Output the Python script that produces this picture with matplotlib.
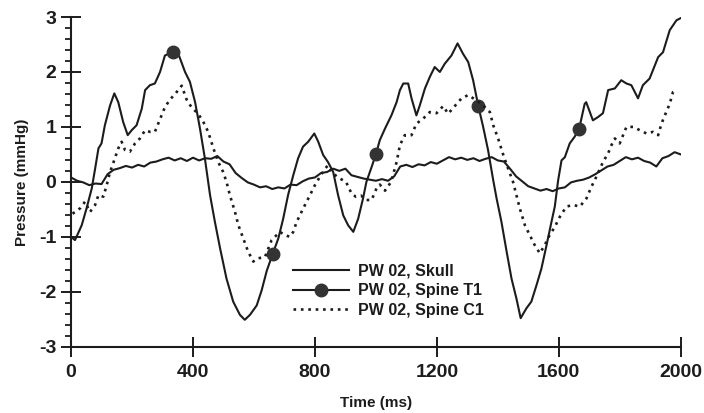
import numpy as np
import matplotlib
matplotlib.use("Agg")
import matplotlib.pyplot as plt
from matplotlib.ticker import MultipleLocator

plt.rcParams['font.family'] = ['Liberation Sans', 'DejaVu Sans']
plt.rcParams['axes.unicode_minus'] = False

# Skull: small oscillation around zero (sampled every 20 ms)
skull_t = list(range(0, 2001, 20))
skull_v = [0.08, 0.02, -0.01, -0.06, -0.03, -0.04, 0.14, 0.22, 0.25, 0.29,
           0.26, 0.31, 0.28, 0.35, 0.37, 0.41, 0.44, 0.39, 0.43, 0.38,
           0.44, 0.39, 0.43, 0.42, 0.47, 0.37, 0.32, 0.16, 0.07, -0.01,
           -0.05, -0.10, -0.08, -0.13, -0.10, -0.12, -0.05, -0.06, 0.01, 0.06,
           0.08, 0.16, 0.18, 0.24, 0.20, 0.24, 0.12, 0.09, 0.06, 0.04,
           0.02, 0.05, 0.02, 0.10, 0.28, 0.31, 0.27, 0.32, 0.30, 0.36,
           0.33, 0.39, 0.45, 0.41, 0.44, 0.40, 0.43, 0.38, 0.42, 0.45,
           0.39, 0.37, 0.24, 0.10, 0.01, -0.08, -0.12, -0.16, -0.13, -0.17,
           -0.12, -0.10, -0.01, 0.02, 0.04, 0.08, 0.14, 0.21, 0.28, 0.31,
           0.38, 0.45, 0.41, 0.44, 0.38, 0.35, 0.28, 0.43, 0.47, 0.54,
           0.50]

# Spine T1: large swings, markers every ~333 ms
t1_t = [0, 13, 35, 51, 68, 79, 90, 100, 111, 128, 142, 155, 171, 186, 199,
        215, 232, 243, 259, 275, 292, 308, 333, 352, 374, 390, 407, 423, 439,
        456, 472, 489, 510, 532, 554, 570, 587, 609, 625, 642, 661, 680, 696,
        712, 729, 745, 761, 778, 798, 811, 827, 843, 860, 876, 893, 909, 926,
        942, 958, 969, 986, 1000, 1013, 1030, 1051, 1068, 1079, 1090, 1106,
        1117, 1133, 1144, 1161, 1177, 1193, 1210, 1226, 1248, 1268, 1286,
        1303, 1319, 1336, 1352, 1368, 1385, 1396, 1412, 1429, 1445, 1461,
        1475, 1494, 1510, 1527, 1543, 1560, 1576, 1587, 1598, 1609, 1620,
        1636, 1652, 1667, 1685, 1690, 1712, 1729, 1745, 1762, 1784, 1805,
        1822, 1838, 1860, 1876, 1898, 1926, 1942, 1964, 1986, 2000]
t1_v = [-1.00, -1.06, -0.79, -0.48, -0.12, 0.24, 0.61, 0.70, 1.03, 1.39, 1.61,
        1.45, 1.09, 0.85, 0.94, 1.03, 1.33, 1.67, 1.76, 1.79, 2.00, 2.30,
        2.36, 2.33, 2.00, 1.82, 1.45, 0.97, 0.43, -0.24, -0.73, -1.21, -1.76,
        -2.18, -2.42, -2.51, -2.42, -2.25, -1.98, -1.62, -1.32, -1.03, -0.67,
        -0.24, 0.12, 0.43, 0.64, 0.73, 0.88, 0.73, 0.49, 0.36, 0.18, -0.24,
        -0.61, -0.79, -0.91, -0.67, -0.30, 0.00, 0.27, 0.50, 0.76, 0.97, 1.21,
        1.45, 1.67, 1.79, 1.79, 1.52, 1.21, 1.39, 1.70, 1.91, 2.09, 2.00, 2.15,
        2.30, 2.52, 2.33, 2.18, 1.85, 1.38, 1.00, 0.58, 0.03, -0.30, -0.73,
        -1.27, -1.76, -2.12, -2.48, -2.30, -2.18, -1.88, -1.58, -1.15, -0.73,
        -0.45, 0.03, 0.39, 0.45, 0.70, 0.82, 0.97, 1.42, 1.45, 1.12, 1.18,
        1.25, 1.67, 1.70, 1.85, 1.79, 1.76, 1.52, 1.76, 1.88, 2.27, 2.36,
        2.76, 2.94, 2.98]
t1_marker_t = [333, 661, 1000, 1336, 1667]

# Spine C1: dotted
c1_t = [5, 30, 46, 62, 79, 90, 106, 117, 128, 144, 155, 166, 177, 193, 210,
        226, 243, 259, 275, 286, 297, 308, 325, 343, 363, 379, 396, 417, 434,
        450, 467, 483, 499, 510, 521, 538, 549, 565, 581, 598, 614, 636, 658,
        685, 702, 718, 729, 740, 762, 784, 800, 816, 833, 843, 860, 882, 902,
        920, 934, 951, 969, 986, 1002, 1013, 1030, 1050, 1068, 1079, 1095,
        1117, 1133, 1155, 1177, 1199, 1221, 1237, 1259, 1281, 1303, 1325,
        1350, 1374, 1385, 1401, 1418, 1434, 1450, 1461, 1472, 1489, 1505,
        1521, 1538, 1554, 1570, 1587, 1603, 1625, 1647, 1669, 1691, 1707,
        1723, 1745, 1762, 1773, 1784, 1800, 1822, 1844, 1866, 1888, 1909,
        1926, 1937, 1948, 1964, 1975, 1985]
c1_v = [-0.58, -0.48, -0.36, -0.55, -0.42, -0.24, -0.27, -0.06, 0.18, 0.43,
        0.61, 0.73, 0.58, 0.55, 0.70, 0.79, 0.94, 0.91, 0.91, 1.06, 1.21,
        1.36, 1.50, 1.61, 1.75, 1.50, 1.35, 1.24, 1.09, 0.91, 0.61, 0.36,
        0.18, 0.00, -0.24, -0.55, -0.79, -1.03, -1.27, -1.45, -1.39, -1.37,
        -1.06, -0.91, -0.97, -1.00, -0.91, -0.73, -0.48, -0.24, -0.06, 0.09,
        0.24, 0.30, 0.15, 0.06, 0.00, -0.21, -0.27, -0.25, -0.33, -0.33,
        -0.12, -0.05, -0.16, 0.00, 0.36, 0.67, 0.85, 0.85, 1.06, 1.15, 1.27,
        1.25, 1.38, 1.24, 1.38, 1.52, 1.58, 1.50, 1.40, 1.27, 1.03, 0.79,
        0.49, 0.24, 0.00, -0.24, -0.48, -0.79, -0.97, -1.15, -1.30, -1.15,
        -0.97, -0.82, -0.64, -0.45, -0.42, -0.45, -0.30, -0.09, 0.09, 0.36,
        0.52, 0.67, 0.79, 0.70, 1.00, 1.00, 0.94, 0.88, 0.91, 0.85, 1.06,
        1.21, 1.42, 1.64, 1.68]

labels = ['PW 02, Skull', 'PW 02, Spine T1', 'PW 02, Spine C1']
ink = '#1c1c1c'

fig = plt.figure(figsize=(7.04, 4.13), dpi=100)
ax = fig.add_axes([0.1009, 0.1605, 0.866, 0.7983])

ax.plot(skull_t, skull_v, color=ink, lw=1.5, label=labels[0])
mk_idx = [t1_t.index(t) for t in t1_marker_t]
ax.plot(t1_t, t1_v, color=ink, lw=1.5, marker='o', markersize=9,
        markevery=mk_idx, markerfacecolor='#333333', markeredgecolor='#333333',
        label=labels[1])
ax.plot(c1_t, c1_v, color=ink, lw=1.9, linestyle=(0, (1, 1.8)),
        label=labels[2])

ax.set_xlim(0, 2000)
ax.set_ylim(-3, 3)
ax.set_xticks([0, 400, 800, 1200, 1600, 2000])
ax.set_yticks([-3, -2, -1, 0, 1, 2, 3])
ax.yaxis.set_minor_locator(MultipleLocator(0.2))

for s in ['top', 'right']:
    ax.spines[s].set_visible(False)
for s in ['left', 'bottom']:
    ax.spines[s].set_linewidth(1.5)
    ax.spines[s].set_color(ink)

ax.tick_params(axis='x', which='major', direction='inout', length=14.5,
               width=1.4, colors=ink, labelsize=14, pad=5)
ax.tick_params(axis='y', which='major', direction='inout', length=15,
               width=1.4, colors=ink, labelsize=14, pad=3)
ax.tick_params(axis='y', which='minor', direction='out', length=4,
               width=1.3, colors=ink)
for lab in ax.get_xticklabels() + ax.get_yticklabels():
    lab.set_fontweight('bold')

ax.set_xlabel('Time (ms)', fontsize=11, fontweight='bold', color=ink,
              labelpad=11)
ax.set_ylabel('Pressure (mmHg)', fontsize=11, fontweight='bold', color=ink,
              labelpad=7)

leg = ax.legend(loc='upper left', bbox_to_anchor=(293 / 704, 1 - 264 / 413),
                bbox_transform=fig.transFigure, frameon=False, fontsize=11.5,
                handlelength=3.5, handletextpad=0.6, labelspacing=0.28,
                borderpad=0, borderaxespad=0)
for txt in leg.get_texts():
    txt.set_fontweight('bold')
    txt.set_color(ink)

fig.savefig('out.png', dpi=100)
